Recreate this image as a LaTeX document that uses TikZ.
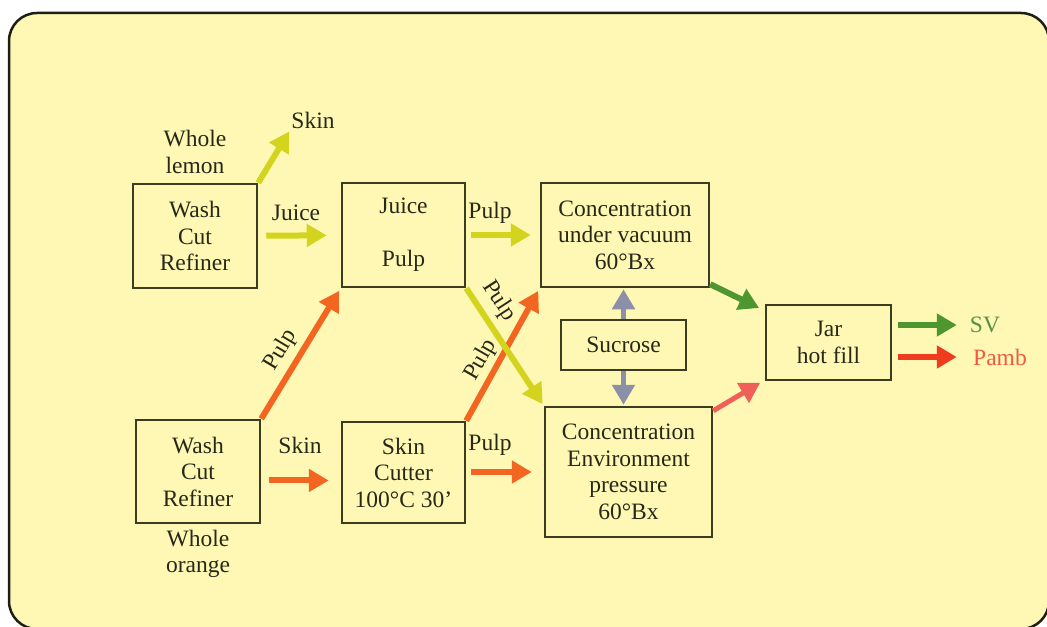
\documentclass[tikz,border=0pt]{standalone}
\usepackage{fontspec}
\setmainfont{Liberation Serif}
\usetikzlibrary{arrows.meta,calc}
\definecolor{bgfill}{RGB}{254,248,180}
\definecolor{frame}{RGB}{30,30,20}
\definecolor{boxline}{RGB}{60,60,30}
\definecolor{txt}{RGB}{40,40,25}
\definecolor{ylw}{RGB}{212,212,30}
\definecolor{org}{RGB}{242,102,34}
\definecolor{gry}{RGB}{140,143,168}
\definecolor{grn}{RGB}{78,150,48}
\definecolor{rdd}{RGB}{240,60,30}
\definecolor{salm}{RGB}{240,96,88}
\tikzset{
  box/.style={draw=boxline, line width=2.5bp, inner sep=0pt, align=center,
    font=\fontsize{23.5bp}{26.5bp}\selectfont, text=txt},
  lbl/.style={inner sep=0pt, align=center, font=\fontsize{23.5bp}{26.5bp}\selectfont, text=txt},
  flow/.style={line width=6bp, -{Triangle[length=20bp,width=22bp]}},
}
\begin{document}
\begin{tikzpicture}[x=1bp,y=-1bp]
\useasboundingbox (0,0) rectangle (1047,627);
\begin{scope}
\clip (0,0) rectangle (1047,627);
\filldraw[fill=bgfill, draw=frame, line width=2.5bp, rounded corners=28bp] (9,13) rectangle (1049,629);
\end{scope}

% boxes
\node[box, minimum width=124bp, minimum height=104bp] (lw) at (195,236) {Wash\\Cut\\Refiner};
\node[box, minimum width=123bp, minimum height=104bp] (jp) at (403.5,235) {Juice\\[26.5bp]Pulp};
\node[box, minimum width=168bp, minimum height=104bp] (cv) at (625,235) {Concentration\\under vacuum\\60°Bx};
\node[box, minimum width=125bp, minimum height=50bp] (suc) at (623.5,345) {Sucrose};
\node[box, minimum width=125bp, minimum height=75bp] (jar) at (828.5,342.5) {Jar\\hot fill};
\node[box, minimum width=124bp, minimum height=103bp] (ow) at (198,471.5) {Wash\\Cut\\Refiner};
\node[box, minimum width=123bp, minimum height=101bp] (sc) at (403.5,472.5) {Skin\\Cutter\\100°C 30'};
\node[box, minimum width=167bp, minimum height=130bp] (ce) at (628.5,472) {Concentration\\Environment\\pressure\\60°Bx};

% labels
\node[lbl] (wl) at (195,152) {Whole\\lemon};
\node[lbl] (sk) at (313,120) {Skin};
\node[lbl] (lj) at (296,213) {Juice};
\node[lbl] (lp1) at (490,213) {Pulp};
\node[lbl] (ls) at (300,445) {Skin};
\node[lbl] (lp2) at (490,445) {Pulp};
\node[lbl] (wo) at (198,554) {Whole\\orange};
\node[lbl, text=grn!75!gray] (sv) at (985,325) {SV};
\node[lbl, text=rdd!85!white] (pamb) at (1000,357) {Pamb};
\node[lbl, rotate=59] (lp3) at (281,350) {Pulp};
\node[lbl, rotate=60] (lp4) at (481,360) {Pulp};
\node[lbl, rotate=-57] (lp5) at (499,301) {Pulp};

% connectors
\draw[flow, ylw] (lw.north east) -- ($(sk.south west)+(-2,3)$);
\draw[flow, ylw, shorten <=8bp, shorten >=14bp] (lw) -- (jp);
\draw[flow, ylw, shorten <=5bp, shorten >=9bp] (jp) -- (cv);
\draw[flow, org, shorten >=3bp] (ow.north east) -- (jp.south west);
\draw[flow, org, shorten >=3bp] (sc.north east) -- (cv.south west);
\draw[flow, ylw, shorten >=2bp] (jp.south east) -- (ce.north west);
\draw[flow, org, shorten <=8bp, shorten >=12bp] (ow.east |- ls.south) ++(0,27) coordinate (o1) (o1) -- (o1 -| sc.west);
\draw[flow, org, shorten <=5bp, shorten >=12bp] ($(sc.east)+(0,-0.5)$) coordinate (s1) (s1) -- (s1 -| ce.west);
\draw[flow, gry, line width=5bp, shorten >=1bp] (suc.north) -- (suc.north |- cv.south);
\draw[flow, gry, line width=5bp, shorten >=1bp] (suc.south) -- (suc.south |- ce.north);
\draw[flow, grn, shorten >=4bp] ($(cv.south east)+(0,-4)$) -- ($(jar.north west)+(-2,6)$);
\draw[flow, salm, line width=5bp, shorten >=3bp] ($(ce.north east)+(0,5)$) -- ($(jar.south west)+(-2,0)$);
\draw[flow, grn, shorten <=6bp, shorten >=13bp] (jar.east |- sv) -- (sv.west);
\draw[flow, rdd, shorten <=6bp, shorten >=13bp] (jar.east |- pamb) -- ($(sv.west |- pamb)$);
\end{tikzpicture}
\end{document}
